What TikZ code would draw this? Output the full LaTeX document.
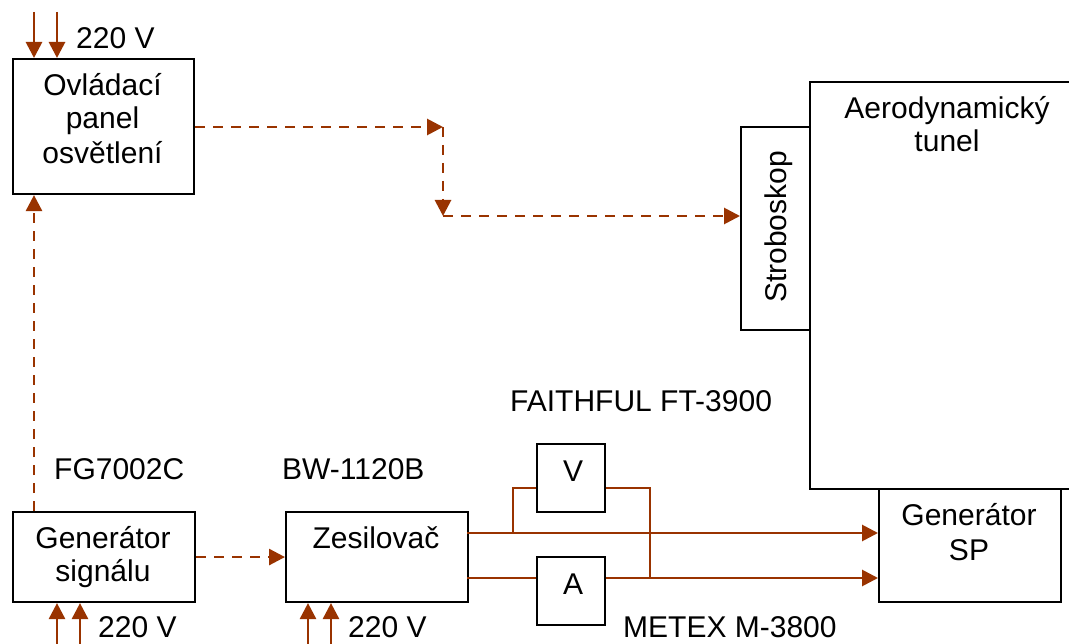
\documentclass[tikz,border=0pt]{standalone}
\usepackage{fontspec}
\setmainfont{Liberation Sans}
\usetikzlibrary{arrows.meta}
\definecolor{wire}{HTML}{993300}
\begin{document}
\begin{tikzpicture}[x=1pt,y=-1pt,
  box/.style={draw=black,line width=2.1pt,fill=white,inner sep=0pt,anchor=north west},
  txt/.style={font=\fontsize{30}{34.5}\selectfont,inner sep=0pt,anchor=base},
  txtl/.style={txt,anchor=base west},
  pw/.style={draw=wire,line width=2.8pt,-{Triangle[length=16pt,width=16pt]}},
  sig/.style={pw,dash pattern=on 10pt off 8pt},
  meter/.style={draw=wire,line width=1.8pt}]
\useasboundingbox (0,0) rectangle (1069,644);
\fill[white] (0,0) rectangle (1069,644);

% boxes
\node[box,minimum width=276pt,minimum height=407pt] (tun) at (809,81) {};
\node[box,minimum width=69pt,minimum height=203pt] (strob) at (740,126) {};
\node[box,minimum width=182pt,minimum height=113pt] (gsp) at (878,488) {};
\node[box,minimum width=181pt,minimum height=135pt] (ov) at (12,58) {};
\node[box,minimum width=182pt,minimum height=90pt] (gs) at (12,511) {};
\node[box,minimum width=182pt,minimum height=90pt] (zes) at (285,511) {};
\node[box,minimum width=68pt,minimum height=68pt] (vm) at (536,443) {};
\node[box,minimum width=68pt,minimum height=68pt] (am) at (536,556) {};

% texts in boxes
\node[txt] (ov1) at (102.5,95.5) {Ovládací};
\node[txt] (ov2) at (102.5,129) {panel};
\node[txt] (ov3) at (102.5,163.5) {osvětlení};
\node[txt] (gs1) at (103,548) {Generátor};
\node[txt] (gs2) at (103,581) {signálu};
\node[txt] (zes1) at (376,548) {Zesilovač};
\node[txt] (gsp1) at (969,525) {Generátor};
\node[txt] (gsp2) at (969,560) {SP};
\node[txt] (tun1) at (947,119) {Aerodynamický};
\node[txt] (tun2) at (947,152) {tunel};
\node[txt,anchor=center,rotate=90] (strob1) at (778.5,227) {Stroboskop};
\node[txt] (v1) at (573,481) {V};
\node[txt] (a1) at (573,594) {A};

% free labels
\node[txtl] (l220a) at (76,49) {220 V};
\node[txtl] (l220b) at (98,637) {220 V};
\node[txtl] (l220c) at (348,637) {220 V};
\node[txtl] (lfg) at (54,479) {FG7002C};
\node[txtl] (lbw) at (282,479) {BW-1120B};
\node[txtl] (lft) at (510,412) {FAITHFUL FT-3900};
\node[txtl] (lmx) at (623,637) {METEX M-3800};

% power inputs
\coordinate (p1) at (34,12);
\coordinate (p2) at (57,12);
\draw[pw] (p1) -- (p1 |- ov.north);
\draw[pw] (p2) -- (p2 |- ov.north);
\coordinate (p3) at (57,650);
\coordinate (p4) at (80,650);
\draw[pw] (p3) -- (p3 |- gs.south);
\draw[pw] (p4) -- (p4 |- gs.south);
\coordinate (p5) at (308,650);
\coordinate (p6) at (331,650);
\draw[pw] (p5) -- (p5 |- zes.south);
\draw[pw] (p6) -- (p6 |- zes.south);

% signal (dashed)
\coordinate (c1) at (443,127);
\coordinate (c2) at (443,216);
\draw[sig] (ov.east |- c1) -- (c1);
\draw[sig] (c1) -- (c2);
\draw[sig] (c2) -- (c2 -| strob.west);
\coordinate (c3) at (34,511);
\draw[sig] (c3) -- (c3 |- ov.south);
\draw[sig] (gs.east) -- (zes.west);

% amplifier outputs
\coordinate (o1) at (467,533);
\coordinate (o2) at (467,578);
\draw[pw] (o1) -- (o1 -| gsp.west);
\draw[pw,-] (o2) -- (o2 -| am.west);
\draw[pw] (o2 -| am.east) -- (o2 -| gsp.west);

% voltmeter wiring
\coordinate (m1) at (513,533);
\coordinate (m2) at (650,578);
\coordinate (vy) at (0,488);
\draw[meter] (m1) |- (vm.west |- vy);
\draw[meter] (vm.east |- vy) -| (m2);
\end{tikzpicture}
\end{document}
